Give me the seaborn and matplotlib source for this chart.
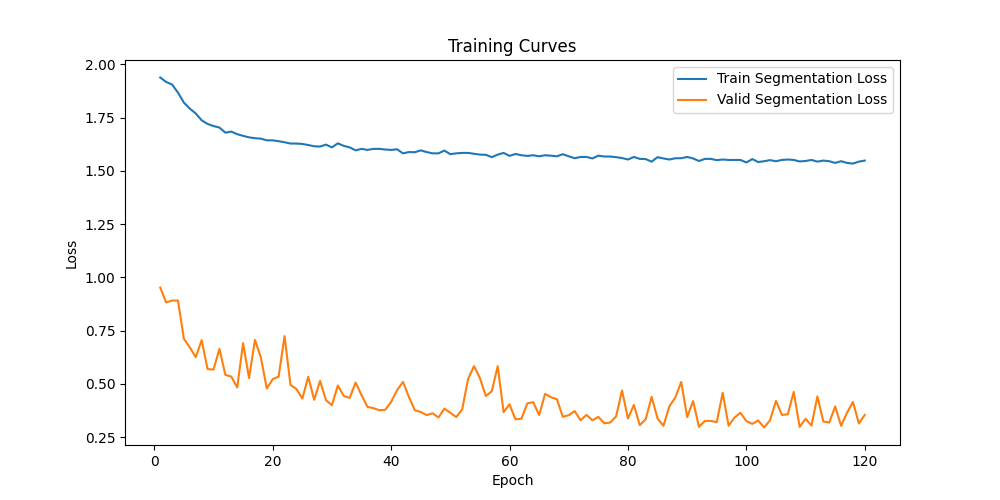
import numpy as np
import matplotlib
matplotlib.use("Agg")
import matplotlib.pyplot as plt
import seaborn as sns

# === Loss values per epoch
epochs = list(range(1, 121))

train_loss = [
    1.938, 1.917, 1.905, 1.867, 1.820, 1.792, 1.769, 1.737, 1.720, 1.710,
    1.703, 1.679, 1.684, 1.672, 1.664, 1.657, 1.653, 1.651, 1.643, 1.643,
    1.639, 1.634, 1.628, 1.628, 1.626, 1.621, 1.615, 1.614, 1.623, 1.610,
    1.629, 1.617, 1.610, 1.596, 1.603, 1.598, 1.603, 1.603, 1.600, 1.598,
    1.601, 1.582, 1.588, 1.587, 1.596, 1.588, 1.582, 1.582, 1.595, 1.578,
    1.582, 1.584, 1.584, 1.580, 1.576, 1.575, 1.564, 1.576, 1.584, 1.570,
    1.579, 1.573, 1.570, 1.573, 1.568, 1.573, 1.571, 1.568, 1.578, 1.568,
    1.559, 1.565, 1.565, 1.558, 1.571, 1.567, 1.567, 1.564, 1.560, 1.553,
    1.565, 1.556, 1.555, 1.543, 1.564, 1.558, 1.553, 1.559, 1.559, 1.565,
    1.558, 1.546, 1.556, 1.556, 1.550, 1.553, 1.551, 1.551, 1.551, 1.539,
    1.555, 1.541, 1.545, 1.550, 1.545, 1.551, 1.553, 1.551, 1.544, 1.546,
    1.551, 1.543, 1.548, 1.545, 1.537, 1.545, 1.537, 1.534, 1.543, 1.548,
]

valid_loss = [
    0.952, 0.882, 0.891, 0.891, 0.711, 0.671, 0.625, 0.705, 0.569, 0.567,
    0.664, 0.542, 0.534, 0.483, 0.691, 0.527, 0.706, 0.624, 0.478, 0.522,
    0.534, 0.724, 0.495, 0.476, 0.431, 0.533, 0.425, 0.514, 0.423, 0.400,
    0.492, 0.443, 0.434, 0.506, 0.447, 0.392, 0.386, 0.376, 0.378, 0.415,
    0.470, 0.509, 0.439, 0.376, 0.368, 0.353, 0.362, 0.342, 0.384, 0.364,
    0.344, 0.380, 0.523, 0.583, 0.527, 0.443, 0.465, 0.583, 0.367, 0.404,
    0.333, 0.336, 0.408, 0.414, 0.353, 0.453, 0.437, 0.428, 0.345, 0.353,
    0.372, 0.329, 0.354, 0.329, 0.345, 0.315, 0.318, 0.347, 0.469, 0.337,
    0.401, 0.306, 0.334, 0.439, 0.337, 0.303, 0.395, 0.436, 0.509, 0.344,
    0.419, 0.298, 0.326, 0.326, 0.320, 0.458, 0.303, 0.342, 0.364, 0.325,
    0.312, 0.328, 0.295, 0.329, 0.420, 0.354, 0.357, 0.462, 0.298, 0.336,
    0.304, 0.441, 0.323, 0.318, 0.394, 0.303, 0.364, 0.415, 0.314, 0.354,
]

# === Plot curves
fig, ax = plt.subplots(figsize=(10, 5), dpi=100)
sns.lineplot(x=epochs, y=train_loss, ax=ax, color="#1f77b4", label="Train Segmentation Loss")
sns.lineplot(x=epochs, y=valid_loss, ax=ax, color="#ff7f0e", label="Valid Segmentation Loss")

ax.set_title("Training Curves")
ax.set_xlabel("Epoch")
ax.set_ylabel("Loss")
ax.legend(loc="upper right")

plt.savefig("out.png", dpi=100)
